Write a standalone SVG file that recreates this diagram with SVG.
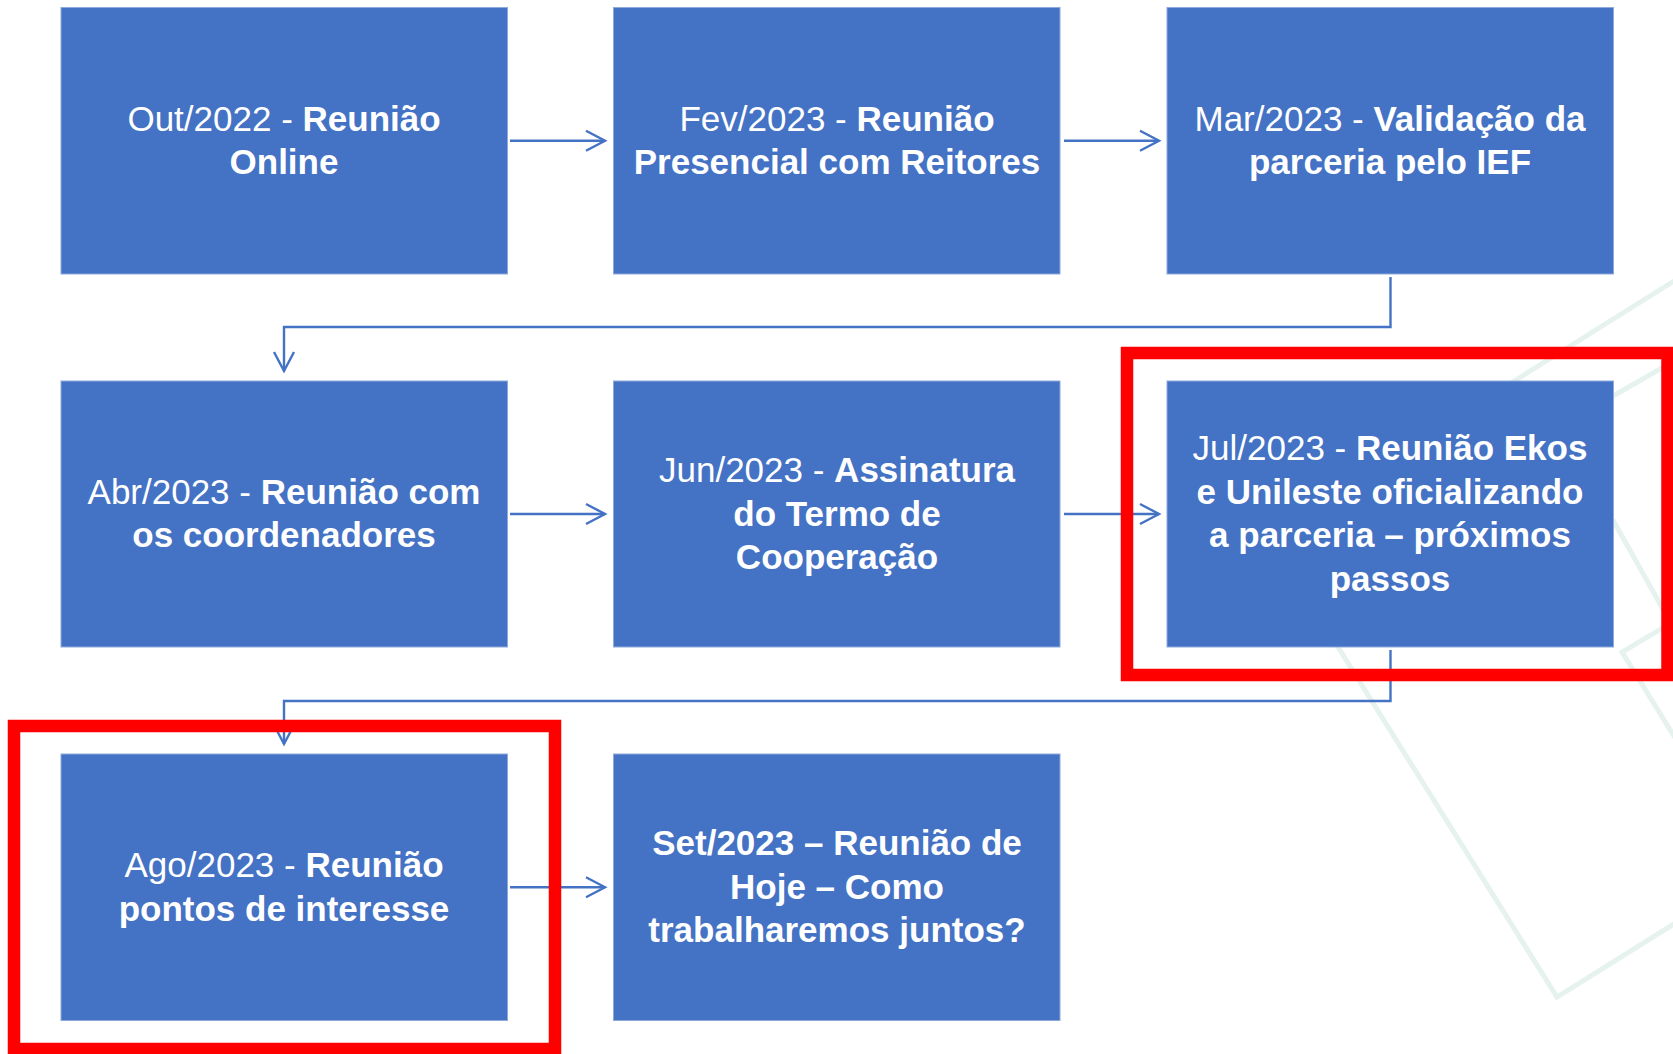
<svg xmlns="http://www.w3.org/2000/svg" width="1673" height="1054" viewBox="0 0 1673 1054">
<style>
.bg{fill:none;stroke:#e6f2ee;stroke-width:5}
.box{fill:#4472C4;stroke:#8eaadb;stroke-width:1}
.t{font-family:"Liberation Sans",Arial,sans-serif;font-size:35px;fill:#ffffff;text-anchor:middle}
.b{font-weight:bold}
.con{fill:none;stroke:#4472C4;stroke-width:2.4}
.hl{fill:none;stroke:#FF0000;stroke-width:12.5}
</style>
<defs>
<marker id="ah" markerUnits="userSpaceOnUse" markerWidth="24" markerHeight="24" viewBox="-20 -12 24 24" refX="0" refY="0" orient="auto">
<path d="M-19,-10 L0,0 L-19,10" fill="none" stroke="#4472C4" stroke-width="2.4"/>
</marker>
</defs>
<rect width="1673" height="1054" fill="#ffffff"/>
<g id="background">
<polygon class="bg" points="1268,535 1730,246 2019,708 1557,997"/>
<polyline class="bg" points="1710,600 1622,652 1690,762"/>
<line class="bg" x1="1613" y1="396" x2="1690" y2="352"/>
<line class="bg" x1="1613" y1="520" x2="1673" y2="627"/>
</g>
<g id="connectors">
<line class="con" x1="510" y1="140.7" x2="605" y2="140.7" marker-end="url(#ah)"/>
<line class="con" x1="1064" y1="140.7" x2="1159" y2="140.7" marker-end="url(#ah)"/>
<path class="con" d="M1390.5,277 V327 H284 V371" marker-end="url(#ah)"/>
<line class="con" x1="510" y1="514" x2="605" y2="514" marker-end="url(#ah)"/>
<line class="con" x1="1064" y1="514" x2="1159" y2="514" marker-end="url(#ah)"/>
<path class="con" d="M1390.5,650 V701 H284 V744" marker-end="url(#ah)"/>
<line class="con" x1="510" y1="887.3" x2="605" y2="887.3" marker-end="url(#ah)"/>
</g>
<g id="n1">
<rect class="box" x="61" y="7.5" width="446.5" height="266.5"/>
<text class="t" x="284" y="130.9">Out/2022 - <tspan class="b">Reunião</tspan></text>
<text class="t b" x="284" y="174.4">Online</text>
</g>
<g id="n2">
<rect class="box" x="613.5" y="7.5" width="446.5" height="266.5"/>
<text class="t" x="837" y="130.9">Fev/2023 - <tspan class="b">Reunião</tspan></text>
<text class="t b" x="837" y="174.4">Presencial com Reitores</text>
</g>
<g id="n3">
<rect class="box" x="1167" y="7.5" width="446.5" height="266.5"/>
<text class="t" x="1390" y="130.9">Mar/2023 - <tspan class="b">Validação da</tspan></text>
<text class="t b" x="1390" y="174.4">parceria pelo IEF</text>
</g>
<g id="n4">
<rect class="box" x="61" y="381" width="446.5" height="266"/>
<text class="t" x="284" y="503.9">Abr/2023 - <tspan class="b">Reunião com</tspan></text>
<text class="t b" x="284" y="547.4">os coordenadores</text>
</g>
<g id="n5">
<rect class="box" x="613.5" y="381" width="446.5" height="266"/>
<text class="t" x="837" y="482.1">Jun/2023 - <tspan class="b">Assinatura</tspan></text>
<text class="t b" x="837" y="525.6">do Termo de</text>
<text class="t b" x="837" y="569.1">Cooperação</text>
</g>
<g id="n6">
<rect class="box" x="1167" y="381" width="446.5" height="266"/>
<text class="t" x="1390" y="460.4">Jul/2023 - <tspan class="b">Reunião Ekos</tspan></text>
<text class="t b" x="1390" y="503.9">e Unileste oficializando</text>
<text class="t b" x="1390" y="547.4">a parceria – próximos</text>
<text class="t b" x="1390" y="590.9">passos</text>
</g>
<g id="n7">
<rect class="box" x="61" y="754" width="446.5" height="266.5"/>
<text class="t" x="284" y="877.2">Ago/2023 - <tspan class="b">Reunião</tspan></text>
<text class="t b" x="284" y="920.7">pontos de interesse</text>
</g>
<g id="n8">
<rect class="box" x="613.5" y="754" width="446.5" height="266.5"/>
<text class="t b" x="837" y="855.4">Set/2023 – Reunião de</text>
<text class="t b" x="837" y="898.9">Hoje – Como</text>
<text class="t b" x="837" y="942.4">trabalharemos juntos?</text>
</g>
<g id="highlights">
<rect class="hl" x="1127" y="353" width="540.5" height="322"/>
<rect class="hl" x="14" y="726" width="541" height="323"/>
</g>
</svg>
